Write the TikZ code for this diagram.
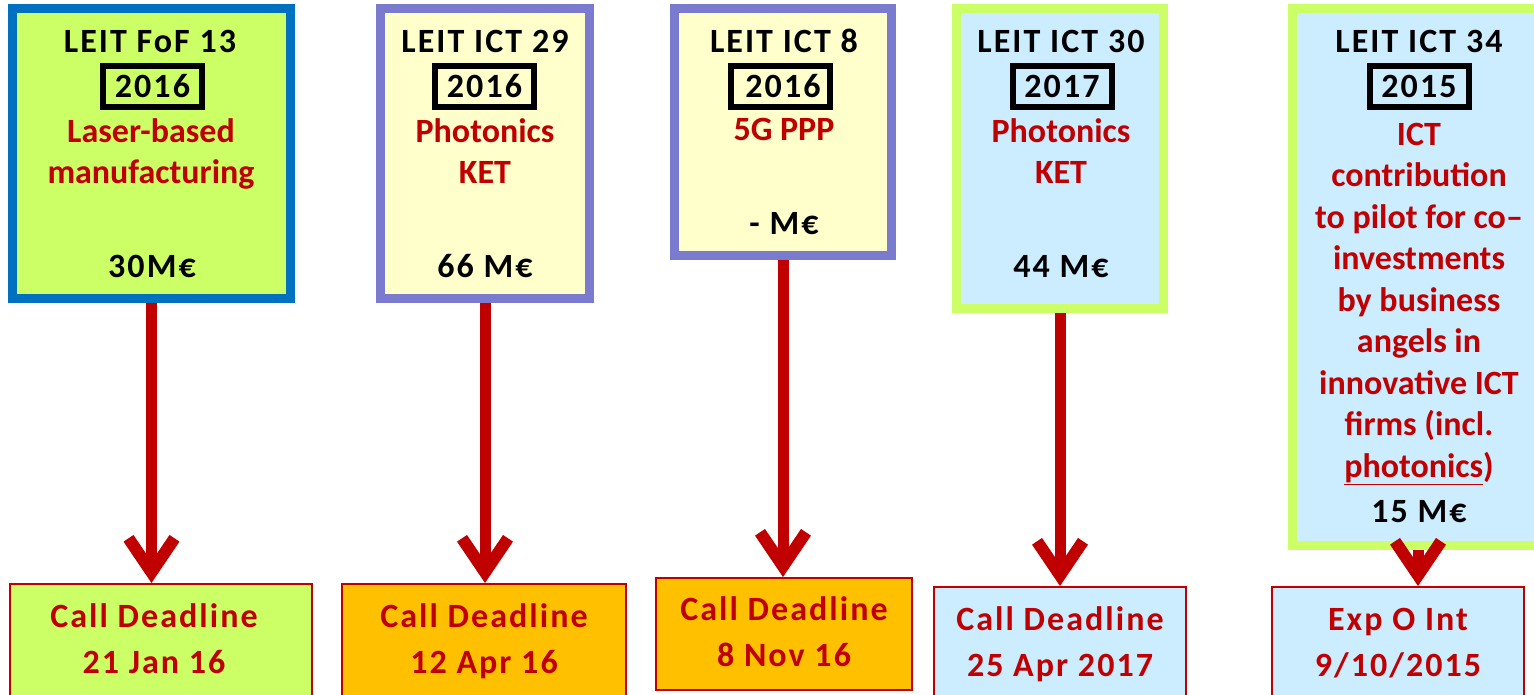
\documentclass[tikz,border=0pt]{standalone}
\usepackage{fontspec}
\setmainfont{Carlito}
\newfontfamily\spacedfont[LetterSpace=6]{Carlito}
\usetikzlibrary{arrows.meta, positioning}
\definecolor{leitblue}{RGB}{0,112,192}
\definecolor{leitgreen}{RGB}{204,255,102}
\definecolor{leitpurple}{RGB}{122,122,206}
\definecolor{paleyellow}{RGB}{255,255,204}
\definecolor{paleblue}{RGB}{204,236,255}
\definecolor{deadorange}{RGB}{255,192,0}
\definecolor{darkred}{RGB}{192,0,0}

\tikzset{
    topicbox/.style 2 args={draw=#1, fill=#2, line width=9pt, inner sep=0pt},
    yearbox/.style={draw=black, line width=6pt, minimum width=99pt, minimum height=41pt, inner sep=0pt, font=\spacedfont\fontsize{34}{41.5}\selectfont\bfseries},
    bigtext/.style={font=\spacedfont\fontsize{34}{41.5}\selectfont\bfseries, align=center, inner sep=0pt, anchor=base},
    topictext/.style={font=\fontsize{34}{41.5}\selectfont\bfseries, text=darkred, align=center, inner sep=0pt, anchor=base},
    deadbox/.style={draw=darkred, fill=#1, line width=2pt, minimum height=112pt, inner sep=0pt},
    deadtext/.style={font=\spacedfont\fontsize{34}{46}\selectfont\bfseries, text=darkred, align=center, inner sep=0pt, anchor=base},
    deadarrow/.style={darkred, line width=11pt, -{Straight Barb[length=34pt, width=46pt, line width=12pt]}},
}

\begin{document}
\begin{tikzpicture}[x=1pt, y=-1pt]
    \useasboundingbox (0,0) rectangle (1534,695);

    % Topic boxes
    \node[topicbox={leitblue}{leitgreen}, minimum width=278pt, minimum height=290pt] (fof13) at (151.5,153.5) {};
    \node[topicbox={leitpurple}{paleyellow}, minimum width=209pt, minimum height=290pt] (ict29) at (485,153.5) {};
    \node[topicbox={leitpurple}{paleyellow}, minimum width=217pt, minimum height=247pt] (ict8) at (783,132) {};
    \node[topicbox={leitgreen}{paleblue}, minimum width=207pt, minimum height=300pt] (ict30) at (1060,158.5) {};
    \node[topicbox={leitgreen}{paleblue}, minimum width=251pt, minimum height=537pt] (ict34) at (1418,277) {};

    % LEIT FoF 13 (base of a multi-line node = its last line)
    \node[bigtext] (fof13name) at (150,53) {LEIT FoF 13};
    \node[yearbox] (fof13year) at (152.5,86.5) {2016};
    \node[topictext] (fof13topic) at (151,184) {Laser-based\\manufacturing};
    \node[bigtext] (fof13budget) at (152,277) {30M€};

    % LEIT ICT 29
    \node[bigtext] (ict29name) at (485,53) {LEIT ICT 29};
    \node[yearbox] (ict29year) at (484.5,86.5) {2016};
    \node[topictext] (ict29topic) at (485,184) {Photonics\\KET};
    \node[bigtext] (ict29budget) at (485,277) {66 M€};

    % LEIT ICT 8
    \node[bigtext] (ict8name) at (784,53) {LEIT ICT 8};
    \node[yearbox] (ict8year) at (780,86.5) {\hspace*{6pt}2016};
    \node[topictext] (ict8topic) at (784,141) {5G PPP};
    \node[bigtext] (ict8budget) at (784,234) {- M€};

    % LEIT ICT 30
    \node[bigtext] (ict30name) at (1061,53) {LEIT ICT 30};
    \node[yearbox] (ict30year) at (1062,86.5) {2017};
    \node[topictext] (ict30topic) at (1061,184) {Photonics\\KET};
    \node[bigtext] (ict30budget) at (1061,277) {44 M€};

    % LEIT ICT 34
    \node[bigtext] (ict34name) at (1419,53) {LEIT ICT 34};
    \node[yearbox] (ict34year) at (1419,86.5) {2015};
    \node[topictext] (ict34topic) at (1419,477) {ICT\\contribution\\to pilot for co–\\investments\\by business\\angels in\\innovative ICT\\firms (incl.\\\underline{photonics})};
    \node[bigtext] (ict34budget) at (1419,522) {15 M€};

    % Deadline boxes
    \node[deadbox=leitgreen, minimum width=302pt] (fof13due) at (161,640) {};
    \node[deadbox=deadorange, minimum width=284pt] (ict29due) at (484,640) {};
    \node[deadbox=deadorange, minimum width=256pt] (ict8due) at (784,634) {};
    \node[deadbox=paleblue, minimum width=252pt] (ict30due) at (1060,643) {};
    \node[deadbox=paleblue, minimum width=252pt] (ict34due) at (1398,643) {};

    \node[deadtext] (fof13date) at (154,673) {Call Deadline\\21 Jan 16};
    \node[deadtext] (ict29date) at (484,673) {Call Deadline\\12 Apr 16};
    \node[deadtext] (ict8date) at (784,666) {Call Deadline\\8 Nov 16};
    \node[deadtext] (ict30date) at (1060,676) {Call Deadline\\25 Apr 2017};
    \node[deadtext] (ict34date) at (1398,676) {Exp O Int\\9/10/2015};

    % Arrows to deadlines
    \draw[deadarrow] (fof13.south) -- (fof13.south |- fof13due.north);
    \draw[deadarrow] (ict29.south) -- (ict29.south |- ict29due.north);
    \draw[deadarrow] (ict8.south) -- (ict8.south |- ict8due.north);
    \draw[deadarrow] (ict30.south) -- (ict30.south |- ict30due.north);
    \draw[deadarrow] (ict34.south) -- (ict34.south |- ict34due.north);
\end{tikzpicture}
\end{document}
